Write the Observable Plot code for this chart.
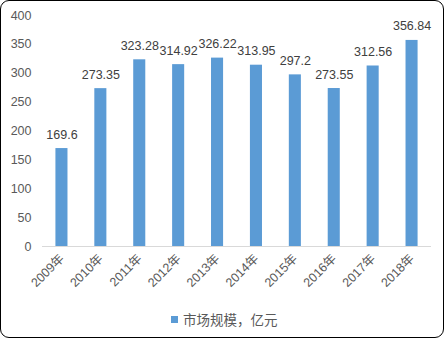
<!DOCTYPE html>
<html><head><meta charset="utf-8">
<script src="https://cdn.jsdelivr.net/npm/d3@7"></script>
<script src="https://cdn.jsdelivr.net/npm/@observablehq/plot@0.6"></script>
<style>
body{margin:0;background:#fff;}
#wrap{position:relative;width:442px;height:336px;border:1px solid #000;border-radius:9px;overflow:hidden;font-family:"Liberation Sans","Noto Sans CJK SC",sans-serif;}
#legend{position:absolute;left:170px;top:308px;font-size:13.5px;color:#595959;display:flex;align-items:center;white-space:nowrap;}
#legend .sw{width:7px;height:7px;background:#5B9BD5;margin-right:5px;margin-top:1px;}
</style></head>
<body><div id="wrap"><div id="chart"></div><div id="legend"><span class="sw"></span><span id="lt"></span></div></div>
<script>
const years = ["2009年","2010年","2011年","2012年","2013年","2014年","2015年","2016年","2017年","2018年"];
const values = [169.6,273.35,323.28,314.92,326.22,313.95,297.2,273.55,312.56,356.84];
const yTicks = [0,50,100,150,200,250,300,350,400];
const seriesName = "市场规模，亿元";
const data = years.map((y,i)=>({year:y,value:values[i]}));
document.getElementById("lt").textContent = seriesName;
const chart = Plot.plot({
  width: 442, height: 300,
  marginLeft: 41, marginRight: 12, marginTop: 14, marginBottom: 55,
  style: {fontFamily: '"Liberation Sans","Noto Sans CJK SC",sans-serif', fontSize: "12.5px", color: "#595959", background: "transparent"},
  x: {domain: years, paddingInner: 0.69, paddingOuter: 0.345, round: false, label: null, tickSize: 0, tickPadding: 10, tickRotate: -45},
  y: {domain: [0,400], ticks: yTicks, label: null, tickSize: 0, tickPadding: 11},
  marks: [
    Plot.barY(data, {x: "year", y: "value", fill: "#5B9BD5"}),
    Plot.ruleY([0], {stroke: "#D9D9D9", strokeWidth: 1}),
    Plot.text(data, {x: "year", y: "value", text: d => String(d.value), dy: -14, fill: "#404040", fontSize: 12.5})
  ]
});
document.getElementById("chart").appendChild(chart);
</script></body></html>
